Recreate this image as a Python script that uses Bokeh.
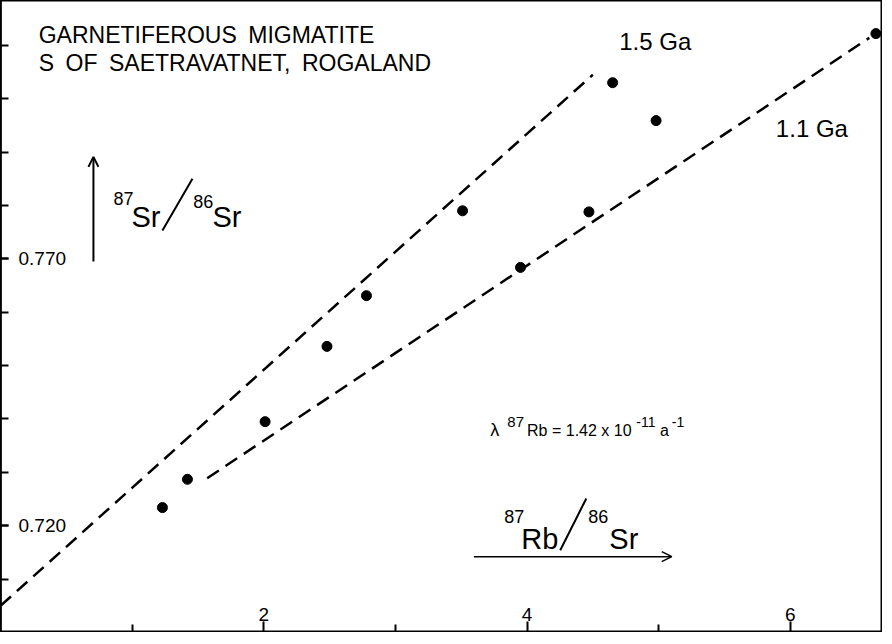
from bokeh.plotting import figure
from bokeh.models import Range1d, FixedTicker, Arrow, OpenHead, Label
from bokeh.core.properties import value
from bokeh.embed import file_html
from bokeh.resources import INLINE

# ---- data ----
rb_sr = [1.23, 1.42, 2.01, 2.48, 2.78, 3.51, 3.95, 4.47, 4.65, 4.98, 6.65]
sr_sr = [0.7234, 0.7287, 0.7395, 0.7536, 0.7631, 0.7790, 0.7684, 0.7788, 0.8030, 0.7959, 0.8122]

iso15_x = [0.0, 4.50]
iso15_y = [0.7050, 0.8045]
iso11_x = [1.57, 6.60]
iso11_y = [0.7289, 0.8114]

x_major = [2, 4, 6]
x_minor = [1, 3, 5]
x_tick_labels = ["2", "4", "6"]
y_major = [0.720, 0.770]
y_minor = [0.700, 0.710, 0.720, 0.730, 0.740, 0.750, 0.760, 0.770, 0.780, 0.790, 0.800, 0.810]
y_tick_labels = ["0.720", "0.770"]

FONT = "Liberation Sans"

p = figure(width=882, height=632, x_range=Range1d(0, 6.70), y_range=Range1d(0.700, 0.8184),
           output_backend="svg", toolbar_location=None, min_border=0)
p.xgrid.visible = False
p.ygrid.visible = False
p.outline_line_color = "black"
p.outline_line_width = 2
p.background_fill_color = "white"
p.border_fill_color = "white"

p.xaxis.ticker = FixedTicker(ticks=x_major, minor_ticks=x_minor)
p.yaxis.ticker = FixedTicker(ticks=y_major, minor_ticks=y_minor)
for ax in (p.xaxis, p.yaxis):
    ax.major_tick_out = 0
    ax.minor_tick_out = 0
    ax.axis_line_width = 2.5
    ax.major_tick_line_width = 2
    ax.minor_tick_line_width = 2
    ax.major_label_standoff = 0
    ax.major_label_text_font_size = "0px"
    ax.axis_line_color = "black"
p.xaxis.major_tick_in = 11
p.xaxis.minor_tick_in = 8
p.yaxis.major_tick_in = 8
p.yaxis.minor_tick_in = 8
p.xaxis.major_label_overrides = {t: "" for t in x_major}
p.yaxis.major_label_overrides = {t: "" for t in y_major}

# tick labels drawn inside the frame
p.text(x=x_major, y=[p.y_range.start] * len(x_major), text=x_tick_labels, y_offset=-12,
       text_align="center", text_baseline="bottom", text_font=value(FONT),
       text_font_size="19px", text_color="black")
p.text(x=[p.x_range.start] * len(y_major), y=y_major, text=y_tick_labels, x_offset=18,
       text_align="left", text_baseline="middle", text_font=value(FONT),
       text_font_size="19px", text_color="black")

# isochrons
p.line(iso15_x, iso15_y, line_color="black", line_width=2.5, line_dash="14 8")
p.line(iso11_x, iso11_y, line_color="black", line_width=2.5, line_dash="14 8")

# samples
p.scatter(rb_sr, sr_sr, size=10, color="black")

def lab(x, y, t, size, align="left"):
    p.add_layout(Label(x=x, y=y, text=t, text_font=FONT, text_font_size=size,
                       text_color="black", text_align=align, text_baseline="alphabetic"))

EN = "\u2002"
lab(0.29, 0.8120, "GARNETIFEROUS" + EN + "MIGMATITE", "23px")
lab(0.29, 0.8067, "S" + EN + "OF" + EN + "SAETRAVATNET," + EN + "ROGALAND", "23px")
lab(4.70, 0.8108, "1.5 Ga", "24px")
lab(5.89, 0.7944, "1.1 Ga", "24px")

# y-axis quantity label
lab(0.858, 0.7813, "87", "18px")
lab(0.995, 0.7779, "Sr", "29px")
p.segment(x0=[1.230], y0=[0.7753], x1=[1.458], y1=[0.7850], line_color="black", line_width=2)
lab(1.465, 0.7807, "86", "18px")
lab(1.610, 0.7779, "Sr", "29px")
p.add_layout(Arrow(end=OpenHead(size=10, line_width=2), x_start=0.706, y_start=0.7695,
                   x_end=0.706, y_end=0.7891, line_width=2, line_color="black"))

# x-axis quantity label
lab(3.827, 0.7217, "87", "18px")
lab(3.956, 0.7176, "Rb", "29px")
p.segment(x0=[4.252], y0=[0.7154], x1=[4.450], y1=[0.7251], line_color="black", line_width=2)
lab(4.465, 0.7217, "86", "18px")
lab(4.625, 0.7176, "Sr", "29px")
p.add_layout(Arrow(end=OpenHead(size=10, line_width=1.5), x_start=3.596, y_start=0.7142,
                   x_end=5.099, y_end=0.7142, line_width=1.5, line_color="black"))

# decay constant
lab(3.72, 0.7380, "λ", "18px")
lab(3.85, 0.7394, "87", "15px")
lab(4.00, 0.7378, "Rb = 1.42 x 10", "16px")
lab(4.83, 0.7394, "-11", "14px")
lab(5.01, 0.7378, "a", "16px")
lab(5.10, 0.7394, "-1", "14px")

open("out.html", "w").write(file_html(p, INLINE))
